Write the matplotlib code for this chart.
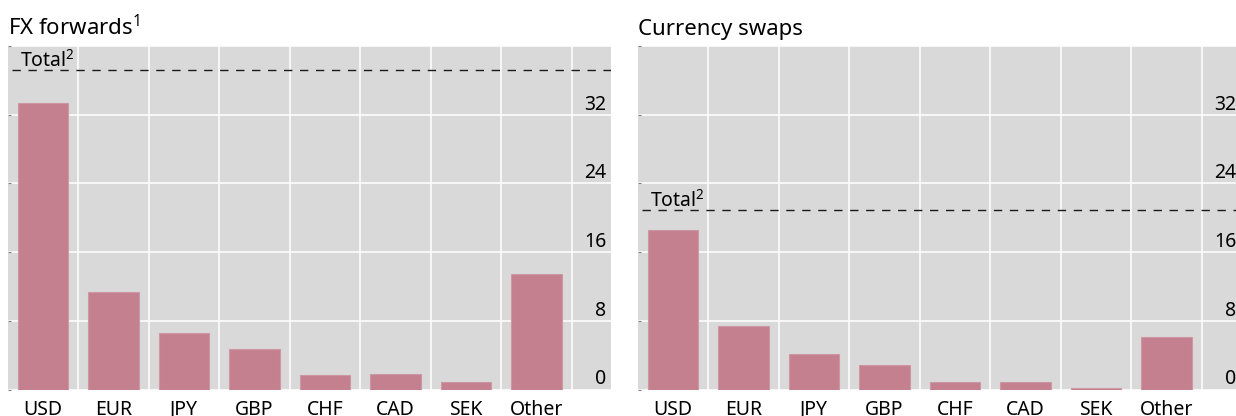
import matplotlib
matplotlib.use('Agg')
import matplotlib.pyplot as plt
import matplotlib.transforms as mtransforms

# ---- data ----
categories = ['USD', 'EUR', 'JPY', 'GBP', 'CHF', 'CAD', 'SEK', 'Other']
fx_forwards = [33.4, 11.4, 6.6, 4.75, 1.74, 1.77, 0.84, 13.4]
fx_forwards_total = 37.2
currency_swaps = [18.55, 7.45, 4.1, 2.85, 0.87, 0.87, 0.2, 6.1]
currency_swaps_total = 20.85
y_ticks = [0, 8, 16, 24, 32, 40]
y_tick_labels = ['0', '8', '16', '24', '32', '']
panel_titles = ['FX forwards$^{1}$', 'Currency swaps']
total_label = 'Total$^{2}$'

# ---- style ----
plt.rcParams['font.family'] = ['Noto Sans', 'DejaVu Sans']
plt.rcParams['mathtext.fontset'] = 'custom'
plt.rcParams['mathtext.rm'] = 'Noto Sans'
plt.rcParams['mathtext.it'] = 'Noto Sans:italic'
plt.rcParams['mathtext.bf'] = 'Noto Sans:bold'

BG = '#D9D9D9'
BAR = '#C4808F'
BAR_EDGE = '#CF97A4'

W, H = 1236, 416
fig = plt.figure(figsize=(W / 100, H / 100), dpi=100)

ax_w = 603.2 / W
ax_h = 343.5 / H
ax_b = 26.5 / H
lefts = [7.8 / W, 637.8 / W]

datasets = [(fx_forwards, fx_forwards_total), (currency_swaps, currency_swaps_total)]

for i, (vals, total) in enumerate(datasets):
    ax = fig.add_axes([lefts[i], ax_b, ax_w, ax_h])
    ax.set_facecolor(BG)
    x = list(range(len(categories)))
    ax.bar(x, vals, width=0.72, color=BAR, edgecolor=BAR_EDGE, linewidth=0.8, zorder=3)
    ax.set_xlim(-0.5, 8.057)
    ax.set_ylim(0, 40)

    # x axis
    ax.set_xticks(x)
    ax.set_xticklabels(categories, fontsize=14)
    ax.set_xticks([k + 0.5 for k in range(len(categories))], minor=True)
    ax.tick_params(axis='x', which='both', length=0, pad=7.5, colors='#000000')
    ax.grid(True, axis='x', which='minor', color='white', linewidth=1.1, zorder=1)

    # y axis
    ax.set_yticks(y_ticks)
    ax.set_yticklabels(y_tick_labels)
    ax.tick_params(axis='y', which='major', left=True, right=False,
                   labelleft=False, labelright=True, direction='in',
                   length=2, width=0.8, color='#808080', pad=-3.3,
                   labelsize=14)
    for t in ax.yaxis.get_major_ticks():
        t.label2.set_horizontalalignment('right')
        t.label2.set_verticalalignment('bottom')
    ax.grid(True, axis='y', which='major', color='white', linewidth=1.1, zorder=1)

    for s in ax.spines.values():
        s.set_visible(False)

    # total dashed line
    ax.axhline(total, xmin=4 / 603.2, xmax=1, color='#1a1a1a', linewidth=1.0,
               dashes=(6, 5.5), zorder=4)
    tr = mtransforms.blended_transform_factory(ax.transAxes, ax.transData)
    tr = mtransforms.offset_copy(tr, fig=fig, x=0, y=2.6, units='points')
    ax.text(12 / 603.2, total, total_label, transform=tr, fontsize=14,
            ha='left', va='baseline', zorder=5)

    # panel title
    fig.text(lefts[i] + 0.5 / W, 381 / H, panel_titles[i], fontsize=16,
             ha='left', va='baseline')

fig.savefig('out.png', dpi=100, facecolor='white')
